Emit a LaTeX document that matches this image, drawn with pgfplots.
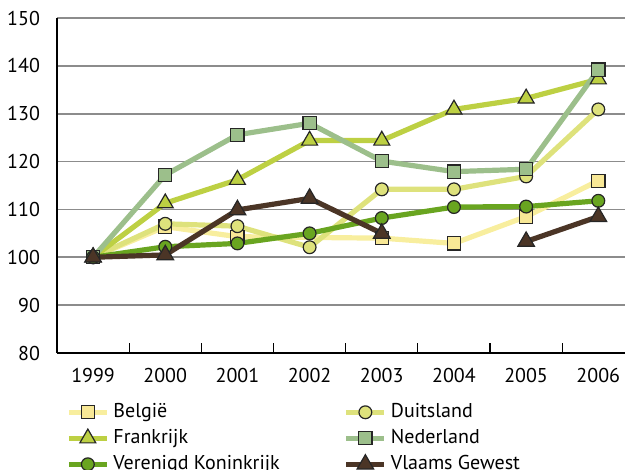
\documentclass[border=0pt]{standalone}
\usepackage{fontspec}
\setmainfont{PT Sans}
\usepackage{pgfplots}
\pgfplotsset{compat=1.18}

\definecolor{belg}{HTML}{F8EE9E}
\definecolor{duits}{HTML}{DEE27C}
\definecolor{frank}{HTML}{BDD043}
\definecolor{nedl}{HTML}{9CBF8B}
\definecolor{vk}{HTML}{69A520}
\definecolor{vlaams}{HTML}{4B3526}

\pgfplotsset{mk/.style={mark options={solid, draw=black!85, line width=0.6pt, fill=#1}}}

\begin{document}
\begin{tikzpicture}
\begin{axis}[
  scale only axis, width=284pt, height=167.5pt,
  xmin=1998.5, xmax=2006.37, ymin=80, ymax=150,
  font=\fontsize{10}{12}\selectfont,
  /pgf/number format/assume math mode=true,
  xtick={1999,...,2006},
  x tick label style={/pgf/number format/1000 sep={}, yshift=-4pt},
  minor xtick={1999.5,2000.5,...,2005.5},
  major x tick style={draw=none},
  minor x tick style={black, line width=0.6pt},
  minor tick length=5pt, tick align=inside,
  ytick={80,90,...,150},
  y tick style={draw=none},
  y tick label style={xshift=-5pt},
  ymajorgrids, grid style={gray!90, line width=0.9pt},
  axis x line*=bottom, axis y line*=left,
  axis line style={-, black, line width=0.9pt},
  unbounded coords=jump,
  every axis plot/.append style={line width=2.6pt},
  legend columns=2,
  legend cell align=left,
  legend style={at={(0.005,-0.125)}, anchor=north west, draw=none, fill=none,
    font=\fontsize{10}{12}\selectfont,
    nodes={inner sep=2pt, text height=7pt, text depth=2pt},
    /tikz/every even column/.append style={column sep=30pt}},
  legend image code/.code={\draw[mark repeat=2,mark phase=2] plot coordinates {(0pt,0pt)(9.5pt,0pt)(19pt,0pt)};},
]
\addplot[color=belg, mark=square*, mark size=3.3pt, mk=belg!95!orange]
  coordinates {(1999,100) (2000,106.4) (2001,104.3) (2003,104.0) (2004,102.9) (2005,108.5) (2006,116.0)};
\addlegendentry{België}
\addplot[color=duits, mark=*, mark size=3.2pt, mk=duits]
  coordinates {(1999,100) (2000,107.0) (2001,106.5) (2002,102.1) (2003,114.2) (2004,114.2) (2005,116.9) (2006,130.9)};
\addlegendentry{Duitsland}
\addplot[color=frank, mark=triangle*, mark size=4.6pt, mk=frank]
  coordinates {(1999,100) (2000,111.3) (2001,116.2) (2002,124.4) (2003,124.4) (2004,130.9) (2005,133.2) (2006,137.2)};
\addlegendentry{Frankrijk}
\addplot[color=nedl, mark=square*, mark size=3.3pt, mk=nedl]
  coordinates {(1999,100) (2000,117.2) (2001,125.6) (2002,128.0) (2003,120.1) (2004,117.9) (2005,118.4) (2006,139.2)};
\addlegendentry{Nederland}
\addplot[color=vk, mark=*, mark size=3.2pt, mk=vk]
  coordinates {(1999,100) (2000,102.2) (2001,102.9) (2002,105.0) (2003,108.2) (2004,110.5) (2005,110.6) (2006,111.8)};
\addlegendentry{Verenigd Koninkrijk}
\addplot[color=vlaams, mark=triangle*, mark size=4.8pt, mk=vlaams]
  coordinates {(1999,100) (2000,100.5) (2001,109.9) (2002,112.3) (2003,105.0) (2004,nan) (2005,103.3) (2006,108.5)};
\addlegendentry{Vlaams Gewest}
\end{axis}
\pgfresetboundingbox
\useasboundingbox (-28.5pt,-58.5pt) rectangle (284pt,176.5pt);
\end{tikzpicture}
\end{document}
